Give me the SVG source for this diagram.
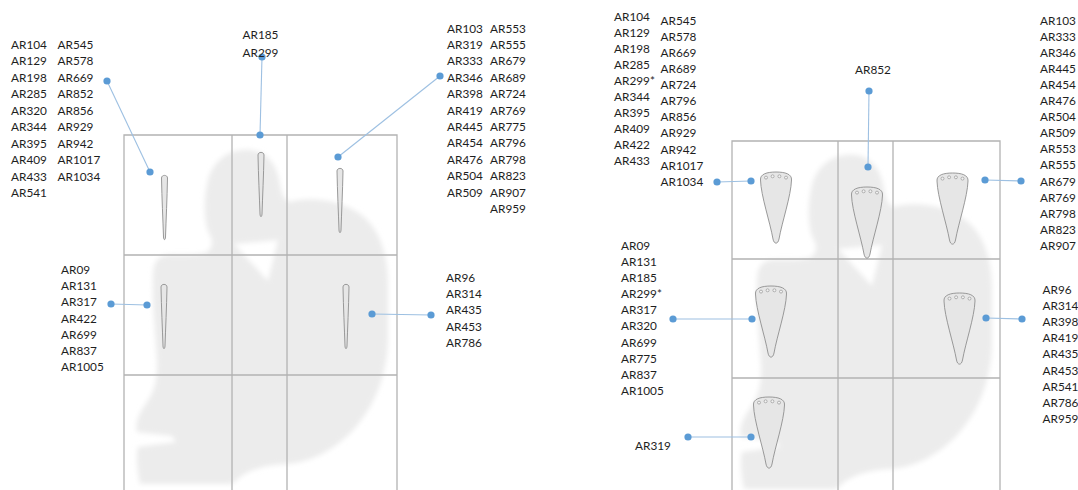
<svg xmlns="http://www.w3.org/2000/svg" xmlns:xlink="http://www.w3.org/1999/xlink" width="1078" height="490" viewBox="0 0 1078 490">
  <style>
    .grid { fill: none; stroke: #b3b3b3; stroke-width: 1.3; }
    .conn { fill: none; stroke: #9dc0e2; stroke-width: 1.1; }
    .dot { fill: #5b9bd5; }
    .lbl { font-family: Lato, "Liberation Sans", sans-serif; font-size: 11.8px; fill: #1e1e1e; }
    .tooth { fill: #e6e6e6; stroke: #8f8f8f; stroke-width: 0.9; }
    .hole { fill: #f2f2f2; stroke: #8a8a8a; stroke-width: 0.6; }
    .blob { fill: #ececec; fill-rule: evenodd; }
  </style>
  <defs>
    <filter id="soft" x="-10%" y="-10%" width="120%" height="120%">
      <feGaussianBlur stdDeviation="2.4"/>
    </filter>
    <!-- curled figure silhouette behind each grid -->
    <path id="figure" class="blob" d="M 243,150 C 262,148 277,160 280,185 C 282,195 284,200 290,202 C 310,196 340,200 360,214 C 380,228 388,255 388,285 L 388,340 C 387,375 375,405 355,428 C 335,450 310,463 285,464 C 265,465 250,470 240,477 C 236,481 233,484 230,484 L 140,484 C 137,470 136,455 138,447 L 176,442 L 172,436 L 137,432 C 135,425 138,415 145,405 C 152,395 158,385 157,360 C 155,330 152,300 153,275 C 153,262 158,256 168,255 C 178,254 190,256 205,253 C 212,250 214,243 210,235 C 204,225 203,200 208,180 C 213,162 226,151 243,150 Z M 234,244 L 278,240 L 268,281 Z"/>
    <!-- thin needle-like tooth -->
    <g id="sliver">
      <path class="tooth" d="M -3,4 C -3,0.5 3,0.5 3,4 C 2.6,25 1.6,45 1,63 C 0.8,66.5 -0.8,66.5 -1,63 C -1.6,45 -2.6,25 -3,4 Z"/>
    </g>
    <!-- broad tooth with four holes along the top -->
    <g id="spatula">
      <path class="tooth" d="M -15.5,8 C -16,2 -9,0 0,0 C 9,0 16,2 15.5,8 C 15,24 6,50 3,67 C 2,72.5 -2,72.5 -3,67 C -6,50 -15,24 -15.5,8 Z"/>
      <circle class="hole" cx="-10" cy="5.6" r="1.5"/>
      <circle class="hole" cx="-3.4" cy="4.3" r="1.5"/>
      <circle class="hole" cx="3.4" cy="4.3" r="1.5"/>
      <circle class="hole" cx="10" cy="5.6" r="1.5"/>
    </g>
  </defs>

  <rect width="1078" height="490" fill="#ffffff"/>

  <!-- background silhouettes -->
  <g id="figure-left" filter="url(#soft)"><use xlink:href="#figure"/></g>
  <g id="figure-right" filter="url(#soft)"><use xlink:href="#figure" transform="translate(604,5)"/></g>

  <!-- left grid -->
  <g id="grid-left" class="grid">
    <path d="M 124,492 V 135 H 397 V 492"/>
    <path d="M 232,135 V 492 M 287,135 V 492"/>
    <path d="M 124,255 H 397 M 124,375 H 397"/>
  </g>
  <!-- right grid -->
  <g id="grid-right" class="grid">
    <path d="M 732,492 V 141 H 1000 V 492"/>
    <path d="M 838,141 V 492 M 893,141 V 492"/>
    <path d="M 732,259 H 1000 M 732,378 H 1000"/>
  </g>

  <!-- left panel teeth -->
  <g id="sliver-r1c1"><use xlink:href="#sliver" transform="translate(164.5,174)"/></g>
  <g id="sliver-r1c2"><use xlink:href="#sliver" transform="translate(261,151)"/></g>
  <g id="sliver-r1c3"><use xlink:href="#sliver" transform="translate(340,167)"/></g>
  <g id="sliver-r2c1"><use xlink:href="#sliver" transform="translate(164,283)"/></g>
  <g id="sliver-r2c3"><use xlink:href="#sliver" transform="translate(346,283)"/></g>

  <!-- right panel teeth -->
  <g id="spatula-r1c1"><use xlink:href="#spatula" transform="translate(776,172)"/></g>
  <g id="spatula-r1c2"><use xlink:href="#spatula" transform="translate(867,187)"/></g>
  <g id="spatula-r1c3"><use xlink:href="#spatula" transform="translate(952.5,173)"/></g>
  <g id="spatula-r2c1"><use xlink:href="#spatula" transform="translate(771,286)"/></g>
  <g id="spatula-r2c3"><use xlink:href="#spatula" transform="translate(959.5,293)"/></g>
  <g id="spatula-r3c1"><use xlink:href="#spatula" transform="translate(769,397)"/></g>

  <!-- leader lines -->
  <g id="connectors">
    <g class="conn">
      <line x1="107" y1="81" x2="150" y2="172"/>
      <line x1="262" y1="57" x2="260" y2="135"/>
      <line x1="440" y1="76" x2="338" y2="157"/>
      <line x1="111" y1="304" x2="147" y2="305"/>
      <line x1="372" y1="314" x2="431" y2="315"/>
      <line x1="717" y1="182" x2="751" y2="181"/>
      <line x1="869" y1="91" x2="868" y2="167"/>
      <line x1="985" y1="180" x2="1021" y2="181"/>
      <line x1="673" y1="319" x2="752" y2="319"/>
      <line x1="986" y1="318" x2="1022" y2="319"/>
      <line x1="688" y1="437" x2="751" y2="437"/>
    </g>
    <g class="dot">
      <circle cx="107" cy="81" r="3.6"/><circle cx="150" cy="172" r="3.6"/>
      <circle cx="262" cy="57" r="3.6"/><circle cx="260" cy="135" r="3.6"/>
      <circle cx="440" cy="76" r="3.6"/><circle cx="338" cy="157" r="3.6"/>
      <circle cx="111" cy="304" r="3.6"/><circle cx="147" cy="305" r="3.6"/>
      <circle cx="372" cy="314" r="3.6"/><circle cx="431" cy="315" r="3.6"/>
      <circle cx="717" cy="182" r="3.6"/><circle cx="751" cy="181" r="3.6"/>
      <circle cx="869" cy="91" r="3.6"/><circle cx="868" cy="167" r="3.6"/>
      <circle cx="985" cy="180" r="3.6"/><circle cx="1021" cy="181" r="3.6"/>
      <circle cx="673" cy="319" r="3.6"/><circle cx="752" cy="319" r="3.6"/>
      <circle cx="986" cy="318" r="3.6"/><circle cx="1022" cy="319" r="3.6"/>
      <circle cx="688" cy="437" r="3.6"/><circle cx="751" cy="437" r="3.6"/>
    </g>
  </g>

  <!-- left panel labels -->
  <g id="labels-left-top" class="lbl">
    <text x="11" y="48.5">AR104</text><text x="11" y="65">AR129</text><text x="11" y="81.5">AR198</text><text x="11" y="98">AR285</text><text x="11" y="114.5">AR320</text><text x="11" y="131">AR344</text><text x="11" y="147.5">AR395</text><text x="11" y="164">AR409</text><text x="11" y="180.5">AR433</text><text x="11" y="197">AR541</text>
    <text x="57.5" y="48.5">AR545</text><text x="57.5" y="65">AR578</text><text x="57.5" y="81.5">AR669</text><text x="57.5" y="98">AR852</text><text x="57.5" y="114.5">AR856</text><text x="57.5" y="131">AR929</text><text x="57.5" y="147.5">AR942</text><text x="57.5" y="164">AR1017</text><text x="57.5" y="180.5">AR1034</text>
  </g>
  <g id="labels-left-mid-top" class="lbl">
    <text x="242.5" y="39">AR185</text><text x="242.5" y="56.5">AR299</text>
  </g>
  <g id="labels-left-right-top" class="lbl">
    <text x="447" y="32.5">AR103</text><text x="447" y="48.9">AR319</text><text x="447" y="65.3">AR333</text><text x="447" y="81.7">AR346</text><text x="447" y="98.1">AR398</text><text x="447" y="114.5">AR419</text><text x="447" y="130.9">AR445</text><text x="447" y="147.3">AR454</text><text x="447" y="163.7">AR476</text><text x="447" y="180.1">AR504</text><text x="447" y="196.5">AR509</text>
    <text x="490" y="32.5">AR553</text><text x="490" y="48.9">AR555</text><text x="490" y="65.3">AR679</text><text x="490" y="81.7">AR689</text><text x="490" y="98.1">AR724</text><text x="490" y="114.5">AR769</text><text x="490" y="130.9">AR775</text><text x="490" y="147.3">AR796</text><text x="490" y="163.7">AR798</text><text x="490" y="180.1">AR823</text><text x="490" y="196.5">AR907</text><text x="490" y="212.9">AR959</text>
  </g>
  <g id="labels-left-mid" class="lbl">
    <text x="61" y="274">AR09</text><text x="61" y="290.2">AR131</text><text x="61" y="306.4">AR317</text><text x="61" y="322.6">AR422</text><text x="61" y="338.8">AR699</text><text x="61" y="355">AR837</text><text x="61" y="371.2">AR1005</text>
  </g>
  <g id="labels-left-right-mid" class="lbl">
    <text x="446" y="282">AR96</text><text x="446" y="298.2">AR314</text><text x="446" y="314.4">AR435</text><text x="446" y="330.6">AR453</text><text x="446" y="346.8">AR786</text>
  </g>

  <!-- right panel labels -->
  <g id="labels-right-top" class="lbl">
    <text x="614" y="21.3">AR104</text><text x="614" y="37.3">AR129</text><text x="614" y="53.3">AR198</text><text x="614" y="69.3">AR285</text><text x="614" y="85.3">AR299*</text><text x="614" y="101.3">AR344</text><text x="614" y="117.3">AR395</text><text x="614" y="133.3">AR409</text><text x="614" y="149.3">AR422</text><text x="614" y="165.3">AR433</text>
    <text x="660.5" y="24.7">AR545</text><text x="660.5" y="40.8">AR578</text><text x="660.5" y="56.9">AR669</text><text x="660.5" y="73">AR689</text><text x="660.5" y="89.1">AR724</text><text x="660.5" y="105.2">AR796</text><text x="660.5" y="121.3">AR856</text><text x="660.5" y="137.4">AR929</text><text x="660.5" y="153.5">AR942</text><text x="660.5" y="169.6">AR1017</text><text x="660.5" y="185.7">AR1034</text>
  </g>
  <g id="labels-right-mid-top" class="lbl">
    <text x="855" y="74">AR852</text>
  </g>
  <g id="labels-right-right-top" class="lbl">
    <text x="1040" y="25">AR103</text><text x="1040" y="41.05">AR333</text><text x="1040" y="57.1">AR346</text><text x="1040" y="73.15">AR445</text><text x="1040" y="89.2">AR454</text><text x="1040" y="105.25">AR476</text><text x="1040" y="121.3">AR504</text><text x="1040" y="137.35">AR509</text><text x="1040" y="153.4">AR553</text><text x="1040" y="169.45">AR555</text><text x="1040" y="185.5">AR679</text><text x="1040" y="201.55">AR769</text><text x="1040" y="217.6">AR798</text><text x="1040" y="233.65">AR823</text><text x="1040" y="249.7">AR907</text>
  </g>
  <g id="labels-right-mid" class="lbl">
    <text x="621" y="249.7">AR09</text><text x="621" y="265.85">AR131</text><text x="621" y="282">AR185</text><text x="621" y="298.15">AR299*</text><text x="621" y="314.3">AR317</text><text x="621" y="330.45">AR320</text><text x="621" y="346.6">AR699</text><text x="621" y="362.75">AR775</text><text x="621" y="378.9">AR837</text><text x="621" y="395.05">AR1005</text>
  </g>
  <g id="labels-right-bottom" class="lbl">
    <text x="635" y="450">AR319</text>
  </g>
  <g id="labels-right-right-mid" class="lbl">
    <text x="1042.5" y="294">AR96</text><text x="1042.5" y="310.1">AR314</text><text x="1042.5" y="326.2">AR398</text><text x="1042.5" y="342.3">AR419</text><text x="1042.5" y="358.4">AR435</text><text x="1042.5" y="374.5">AR453</text><text x="1042.5" y="390.6">AR541</text><text x="1042.5" y="406.7">AR786</text><text x="1042.5" y="422.8">AR959</text>
  </g>
</svg>
